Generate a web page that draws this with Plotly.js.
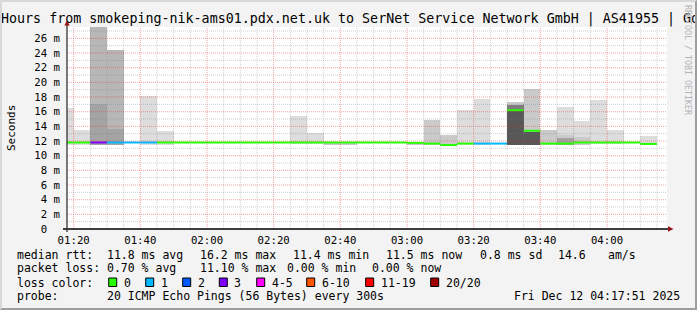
<!DOCTYPE html>
<html><head><meta charset="utf-8">
<script src="https://cdn.plot.ly/plotly-3.0.1.min.js"></script>
<style>
html,body{margin:0;padding:0;background:#f3f3f3;}
#wrap{position:relative;width:697px;height:310px;overflow:hidden;background:#f3f3f3;}
#chart{position:absolute;left:0;top:0;width:697px;height:310px;}
#frame{position:absolute;left:0;top:0;width:697px;height:310px;box-sizing:border-box;border-top:2px solid #d8d8d8;border-left:2px solid #d8d8d8;border-right:2px solid #9e9e9e;border-bottom:2px solid #9e9e9e;pointer-events:none;}
</style></head><body>
<div id="wrap"><div id="chart"></div><div id="frame"></div></div>
<script>
// ---------------- data ----------------
const day = '2025-12-12';
const viewStart = '01:18';
const viewEnd = '04:18';
const stepMinutes = 5;

// 5-minute intervals (start times), median RTT (ms) and lost pings (of 20)
const intervalStart = ['01:15','01:20','01:25','01:30','01:35','01:40','01:45','01:50','01:55','02:00',
  '02:05','02:10','02:15','02:20','02:25','02:30','02:35','02:40','02:45','02:50','02:55','03:00',
  '03:05','03:10','03:15','03:20','03:25','03:30','03:35','03:40','03:45','03:50','03:55','04:00','04:05','04:10'];
const medianRtt = [11.8,11.8,11.8,11.8,11.8,11.8,11.8,11.8,11.8,11.8,
  11.8,11.8,11.8,11.8,11.8,11.8,11.8,11.8,11.8,11.8,11.8,11.75,
  11.65,11.45,11.65,11.65,11.65,16.2,13.4,11.65,11.65,11.8,11.8,11.8,11.8,11.6];
const lossPings = [0,0,3,1,1,1,0,0,0,0,
  0,0,0,0,0,0,0,0,0,0,0,0,
  0,0,0,1,1,0,0,0,0,0,0,0,0,0];

// smoke bands: interval start, ping-pair rank (1 = outermost), low and high RTT (ms)
const bandStart = ['01:15','01:20','01:25','01:25','01:30','01:30','01:40','01:45','02:25','02:30',
  '02:35','02:40','03:00','03:05','03:10','03:15','03:20','03:30','03:30','03:30',
  '03:35','03:35','03:40','03:45','03:45','03:45','03:50','03:50','03:55','04:00','04:10'];
const bandRank = [1,1,3,4,3,4,1,1,1,1,
  2,2,2,2,2,1,1,2,6,8,
  2,8,2,1,2,4,1,2,1,1,1];
const bandLow = [11.5,11.5,11.5,11.5,11.5,11.5,11.5,11.5,11.6,11.6,
  11.45,11.45,11.45,11.5,11.35,11.5,11.5,11.5,11.5,11.5,
  11.5,11.5,11.5,11.5,11.5,11.5,11.5,11.5,11.6,11.6,11.4];
const bandHigh = [16.5,13.46,28.5,17.0,24.4,13.64,18.14,13.33,15.37,13.1,
  11.8,11.8,11.8,14.8,12.8,16.2,17.7,17.28,16.87,16.29,
  19.15,13.23,13.56,16.64,12.78,12.47,14.73,12.55,17.56,13.56,12.65];

const yTickVals = [0,2,4,6,8,10,12,14,16,18,20,22,24,26];
const yTickText = ['0\u00a0\u00a0','2 m','4 m','6 m','8 m','10 m','12 m','14 m','16 m','18 m','20 m','22 m','24 m','26 m'];
const yMax = 27.55;

const titleText = 'Hours from smokeping-nik-ams01.pdx.net.uk to SerNet Service Network GmbH | AS41955 | Go';
const yTitle = 'Seconds';
const watermark = 'RRDTOOL / TOBI OETIKER';
const rowLabels = ['median rtt:','packet loss:','loss color:','probe:'];
const rttStats = ['11.8 ms avg','16.2 ms max','11.4 ms min','11.5 ms now','0.8 ms sd','14.6','am/s'];
const lossStats = ['0.70 % avg','11.10 % max','0.00 % min','0.00 % now'];
const lossLegend = ['0','1','2','3','4-5','6-10','11-19','20/20'];
const probeText = '20 ICMP Echo Pings (56 Bytes) every 300s';
const stampText = 'Fri Dec 12 04:17:51 2025';

// ---------------- style ----------------
const lossColors = ['#26ff00','#00b8ff','#0059ff','#7e00ff','#ff00ff','#ff5500','#ff0000','#a00000'];
const mono = 'DejaVu Sans Mono, monospace';
const majorGrid = 'rgba(235,40,40,0.42)';
const minorGrid = 'rgba(120,120,120,0.35)';
const gridDash = '1px,1px';

// plot area in pixels
const PL = 67, PR = 667, PT = 27, PB = 229;
const X = px => (px - PL) / (PR - PL);
const Y = py => (PB - py) / (PB - PT);

function toMin(hm){ const [h,m] = hm.split(':').map(Number); return h*60+m; }
function stamp(mins){
  const s = Math.round(mins*60);
  const h = Math.floor(s/3600), m = Math.floor((s%3600)/60), sec = s%60;
  const p = n => String(n).padStart(2,'0');
  return day+' '+p(h)+':'+p(m)+':'+p(sec);
}
function lossClass(n){
  if (n<=0) return 0; if (n===1) return 1; if (n===2) return 2; if (n===3) return 3;
  if (n<=5) return 4; if (n<=10) return 5; if (n<20) return 6; return 7;
}
function rankGray(r){ const g = Math.floor(190/10*(10-r))+50; const h=g.toString(16).padStart(2,'0'); return '#'+h+h+h; }

const traces = [];
// smoke, outermost rank first
const ranks = [...new Set(bandRank)].sort((a,b)=>a-b);
ranks.forEach(r => {
  const xs=[], base=[], hs=[];
  bandRank.forEach((br,i) => {
    if (br!==r) return;
    xs.push(stamp(toMin(bandStart[i]) + stepMinutes/2));
    base.push(bandLow[i]);
    hs.push(bandHigh[i]-bandLow[i]);
  });
  traces.push({type:'bar', x:xs, y:hs, base:base, width:stepMinutes*60000,
    marker:{color:rankGray(r), line:{width:0}}, hoverinfo:'skip'});
});
// median line coloured by loss
const segs = lossColors.map(()=>({x:[],y:[]}));
intervalStart.forEach((t,i) => {
  const c = lossClass(lossPings[i]);
  const s0 = toMin(t);
  segs[c].x.push(stamp(s0), stamp(s0+stepMinutes), null);
  segs[c].y.push(medianRtt[i], medianRtt[i], null);
});
segs.forEach((s,c) => {
  if (!s.x.length) return;
  traces.push({type:'scatter', mode:'lines', x:s.x, y:s.y, line:{color:lossColors[c], width:2},
    hoverinfo:'skip', connectgaps:false});
});

// grid (drawn above the smoke, like rrdtool)
const shapes = [];
const v0 = toMin(viewStart), v1 = toMin(viewEnd);
for (let m = Math.ceil(v0/stepMinutes)*stepMinutes; m < v1; m += stepMinutes) {
  const major = m % 20 === 0;
  shapes.push({type:'line', xref:'x', yref:'paper', x0:stamp(m), x1:stamp(m), y0:0, y1:1, layer:'above',
    line:{color: major?majorGrid:minorGrid, width:1, dash:gridDash}});
}
for (let v = 1; v < yMax; v += 1) {
  const major = v % 2 === 0;
  shapes.push({type:'line', xref:'paper', yref:'y', x0:0, x1:1, y0:v, y1:v, layer:'above',
    line:{color: major?majorGrid:minorGrid, width:1, dash:gridDash}});
}
// axes with arrows
shapes.push({type:'line', xref:'paper', yref:'paper', x0:X(63), x1:X(668), y0:Y(229), y1:Y(229), layer:'above', line:{color:'#000', width:1.3}});
shapes.push({type:'line', xref:'paper', yref:'paper', x0:X(67), x1:X(67), y0:Y(232), y1:Y(25), layer:'above', line:{color:'#333', width:1.3}});
shapes.push({type:'path', xref:'paper', yref:'paper', layer:'above',
  path:`M ${X(668)} ${Y(226.3)} L ${X(673.5)} ${Y(229)} L ${X(668)} ${Y(231.7)} Z`, fillcolor:'#9a1515', line:{width:0}});
shapes.push({type:'path', xref:'paper', yref:'paper', layer:'above',
  path:`M ${X(64.3)} ${Y(25.5)} L ${X(67)} ${Y(20.5)} L ${X(69.7)} ${Y(25.5)} Z`, fillcolor:'#9a1515', line:{width:0}});

// texts
const ann = [];
function txt(text, px, py, size, extra){
  ann.push(Object.assign({xref:'paper', yref:'paper', x:X(px), y:Y(py), xanchor:'left', yanchor:'middle',
    showarrow:false, text:text, borderpad:0, font:{family:mono, size:size, color:'#000'}}, extra||{}));
}
txt(titleText, 0, 19, 13.33);
txt(yTitle, 11, 128, 11, {xanchor:'center', textangle:-90});
txt(watermark, 688, 60, 8.3, {xanchor:'center', textangle:90, font:{family:mono, size:8.3, color:'#b4b4b4'}});

const rowY = [255, 268.3, 282.5, 296];
const LF = 11.5;
rowLabels.forEach((l,i) => txt(l, 15.5, rowY[i], LF));
const rttX = [106, 199, 292, 385, 478.5, 557, 606.5];
rttStats.forEach((s,i) => txt(s, rttX[i], rowY[0], LF));
const lossX = [106, 199, 285.5, 371.5];
lossStats.forEach((s,i) => txt(s, lossX[i], rowY[1], LF));
const boxX = [108.7, 145.7, 182.7, 219.3, 256.7, 306.7, 365.7, 430.7];
lossLegend.forEach((s,i) => {
  shapes.push({type:'rect', xref:'paper', yref:'paper', x0:X(boxX[i]), x1:X(boxX[i]+8), y0:Y(286.5), y1:Y(278),
    fillcolor:lossColors[i], line:{color:'#000', width:1}, layer:'above'});
  txt(s, boxX[i]+14, rowY[2], LF);
});
txt(probeText, 106, rowY[3], LF);
txt(stampText, 512.5, rowY[3], LF);

const layout = {
  width:697, height:310,
  margin:{l:PL, r:697-PR, t:PT, b:310-PB, pad:0},
  paper_bgcolor:'rgba(0,0,0,0)', plot_bgcolor:'#ffffff',
  barmode:'overlay', bargap:0, showlegend:false,
  xaxis:{type:'date', range:[stamp(v0), stamp(v1)], tickformat:'%H:%M', tick0:stamp(80), dtick:20*60000,
    ticks:'', showline:false, zeroline:false, showgrid:false, fixedrange:true,
    tickfont:{family:mono, size:10.7, color:'#000'}, ticklabelstandoff:3},
  yaxis:{range:[0, yMax], tickmode:'array', tickvals:yTickVals, ticktext:yTickText,
    ticks:'', showline:false, zeroline:false, showgrid:false, fixedrange:true,
    tickfont:{family:mono, size:10.7, color:'#000'}, ticklabelstandoff:6},
  shapes:shapes, annotations:ann
};
Plotly.newPlot('chart', traces, layout, {staticPlot:true, displayModeBar:false});
</script>
</body></html>
